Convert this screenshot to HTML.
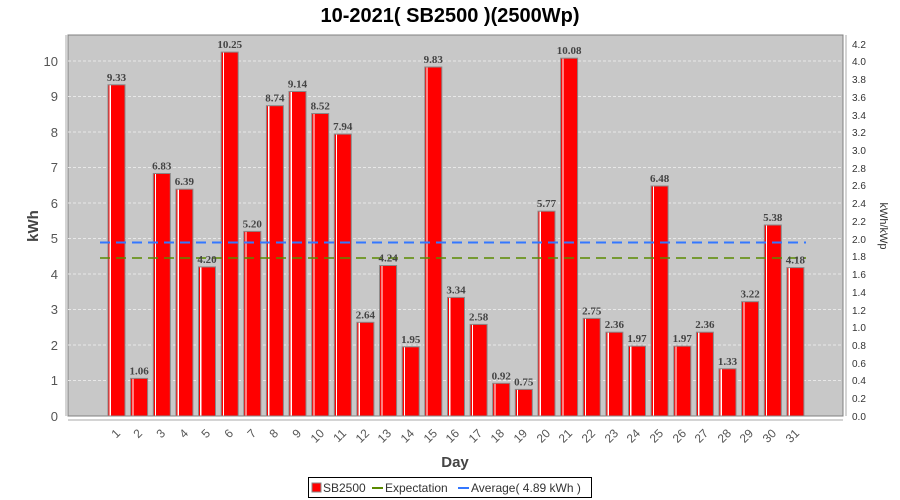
<!DOCTYPE html><html><head><style>body{margin:0;background:#fff}svg{display:block}</style></head><body>
<svg width="900" height="500" xmlns="http://www.w3.org/2000/svg" font-family="Liberation Sans, sans-serif">
<defs><linearGradient id="bg" x1="0" x2="1" y1="0" y2="0">
<stop offset="0" stop-color="#f00"/><stop offset="0.1" stop-color="#f00"/><stop offset="0.1" stop-color="#fff"/><stop offset="0.17" stop-color="#fff"/><stop offset="0.17" stop-color="#f00"/><stop offset="1" stop-color="#f00"/>
</linearGradient></defs>
<text x="450" y="22" text-anchor="middle" font-size="20" font-weight="bold" fill="#000">10-2021( SB2500 )(2500Wp)</text>
<rect x="68" y="35" width="775" height="381" fill="#c8c8c8" stroke="#808080"/>
<g stroke="#e8e8e8" stroke-dasharray="3,2" stroke-width="1">
<line x1="68" x2="843" y1="380.5" y2="380.5"/><line x1="68" x2="843" y1="345" y2="345"/><line x1="68" x2="843" y1="309.5" y2="309.5"/><line x1="68" x2="843" y1="274" y2="274"/><line x1="68" x2="843" y1="238.5" y2="238.5"/><line x1="68" x2="843" y1="203" y2="203"/><line x1="68" x2="843" y1="167.5" y2="167.5"/><line x1="68" x2="843" y1="132" y2="132"/><line x1="68" x2="843" y1="96.5" y2="96.5"/><line x1="68" x2="843" y1="61" y2="61"/>
</g>
<g fill="#555" font-size="13" text-anchor="end">
<text x="58" y="421">0</text><text x="58" y="385">1</text><text x="58" y="350">2</text><text x="58" y="314">3</text><text x="58" y="279">4</text><text x="58" y="243">5</text><text x="58" y="208">6</text><text x="58" y="172">7</text><text x="58" y="137">8</text><text x="58" y="101">9</text><text x="58" y="66">10</text>
</g>
<text x="38" y="226" font-size="15" font-weight="bold" fill="#444" text-anchor="middle" transform="rotate(-90 38 226)">kWh</text>
<g fill="#333" font-size="10">
<text x="852" y="420">0.0</text><text x="852" y="402">0.2</text><text x="852" y="384">0.4</text><text x="852" y="367">0.6</text><text x="852" y="349">0.8</text><text x="852" y="331">1.0</text><text x="852" y="314">1.2</text><text x="852" y="296">1.4</text><text x="852" y="278">1.6</text><text x="852" y="260">1.8</text><text x="852" y="243">2.0</text><text x="852" y="225">2.2</text><text x="852" y="207">2.4</text><text x="852" y="189">2.6</text><text x="852" y="172">2.8</text><text x="852" y="154">3.0</text><text x="852" y="136">3.2</text><text x="852" y="119">3.4</text><text x="852" y="101">3.6</text><text x="852" y="83">3.8</text><text x="852" y="65">4.0</text><text x="852" y="48">4.2</text>
</g>
<line x1="846" x2="846" y1="35" y2="416" stroke="#aaa"/>
<text x="880" y="226" font-size="11" fill="#333" text-anchor="middle" transform="rotate(90 880 226)">kWh/kWp</text>
<line x1="66" x2="66" y1="35" y2="416" stroke="#aaa"/>
<line x1="68" x2="843" y1="420" y2="420" stroke="#aaa"/>
<g fill="url(#bg)" stroke="#888" stroke-width="1">
<rect x="108" y="84.8" width="17" height="331.2"/><rect x="130.6" y="378.4" width="17" height="37.6"/><rect x="153.3" y="173.5" width="17" height="242.5"/><rect x="175.9" y="189.2" width="17" height="226.8"/><rect x="198.5" y="266.9" width="17" height="149.1"/><rect x="221.2" y="52.1" width="17" height="363.9"/><rect x="243.8" y="231.4" width="17" height="184.6"/><rect x="266.4" y="105.7" width="17" height="310.3"/><rect x="289" y="91.5" width="17" height="324.5"/><rect x="311.7" y="113.5" width="17" height="302.5"/><rect x="334.3" y="134.1" width="17" height="281.9"/><rect x="356.9" y="322.3" width="17" height="93.7"/><rect x="379.6" y="265.5" width="17" height="150.5"/><rect x="402.2" y="346.8" width="17" height="69.2"/><rect x="424.8" y="67" width="17" height="349"/><rect x="447.5" y="297.4" width="17" height="118.6"/><rect x="470.1" y="324.4" width="17" height="91.6"/><rect x="492.7" y="383.3" width="17" height="32.7"/><rect x="515.3" y="389.4" width="17" height="26.6"/><rect x="538" y="211.2" width="17" height="204.8"/><rect x="560.6" y="58.2" width="17" height="357.8"/><rect x="583.2" y="318.4" width="17" height="97.6"/><rect x="605.9" y="332.2" width="17" height="83.8"/><rect x="628.5" y="346.1" width="17" height="69.9"/><rect x="651.1" y="186" width="17" height="230"/><rect x="673.8" y="346.1" width="17" height="69.9"/><rect x="696.4" y="332.2" width="17" height="83.8"/><rect x="719" y="368.8" width="17" height="47.2"/><rect x="741.6" y="301.7" width="17" height="114.3"/><rect x="764.3" y="225" width="17" height="191"/><rect x="786.9" y="267.6" width="17" height="148.4"/>
</g>
<line x1="100" x2="806" y1="258" y2="258" stroke="#5a8a00" stroke-width="1.5" stroke-dasharray="10,6"/>
<line x1="100" x2="806" y1="242.5" y2="242.5" stroke="#3377ff" stroke-width="2" stroke-dasharray="10,6"/>
<g fill="#444" font-size="11" font-weight="bold" font-family="Liberation Serif, serif" text-anchor="middle">
<text x="116.5" y="80.8">9.33</text><text x="139.1" y="374.4">1.06</text><text x="161.8" y="169.5">6.83</text><text x="184.4" y="185.2">6.39</text><text x="207" y="262.9">4.20</text><text x="229.7" y="48.1">10.25</text><text x="252.3" y="227.4">5.20</text><text x="274.9" y="101.7">8.74</text><text x="297.5" y="87.5">9.14</text><text x="320.2" y="109.5">8.52</text><text x="342.8" y="130.1">7.94</text><text x="365.4" y="318.3">2.64</text><text x="388.1" y="261.5">4.24</text><text x="410.7" y="342.8">1.95</text><text x="433.3" y="63">9.83</text><text x="456" y="293.4">3.34</text><text x="478.6" y="320.4">2.58</text><text x="501.2" y="379.3">0.92</text><text x="523.8" y="385.4">0.75</text><text x="546.5" y="207.2">5.77</text><text x="569.1" y="54.2">10.08</text><text x="591.7" y="314.4">2.75</text><text x="614.4" y="328.2">2.36</text><text x="637" y="342.1">1.97</text><text x="659.6" y="182">6.48</text><text x="682.3" y="342.1">1.97</text><text x="704.9" y="328.2">2.36</text><text x="727.5" y="364.8">1.33</text><text x="750.1" y="297.7">3.22</text><text x="772.8" y="221">5.38</text><text x="795.4" y="263.6">4.18</text>
</g>
<g fill="#555" font-size="12" text-anchor="end">
<text transform="translate(121,434) rotate(-45)">1</text><text transform="translate(143,434) rotate(-45)">2</text><text transform="translate(166,434) rotate(-45)">3</text><text transform="translate(189,434) rotate(-45)">4</text><text transform="translate(211,434) rotate(-45)">5</text><text transform="translate(234,434) rotate(-45)">6</text><text transform="translate(257,434) rotate(-45)">7</text><text transform="translate(279,434) rotate(-45)">8</text><text transform="translate(302,434) rotate(-45)">9</text><text transform="translate(325,434) rotate(-45)">10</text><text transform="translate(347,434) rotate(-45)">11</text><text transform="translate(370,434) rotate(-45)">12</text><text transform="translate(392,434) rotate(-45)">13</text><text transform="translate(415,434) rotate(-45)">14</text><text transform="translate(438,434) rotate(-45)">15</text><text transform="translate(460,434) rotate(-45)">16</text><text transform="translate(483,434) rotate(-45)">17</text><text transform="translate(505,434) rotate(-45)">18</text><text transform="translate(528,434) rotate(-45)">19</text><text transform="translate(551,434) rotate(-45)">20</text><text transform="translate(573,434) rotate(-45)">21</text><text transform="translate(596,434) rotate(-45)">22</text><text transform="translate(619,434) rotate(-45)">23</text><text transform="translate(641,434) rotate(-45)">24</text><text transform="translate(664,434) rotate(-45)">25</text><text transform="translate(687,434) rotate(-45)">26</text><text transform="translate(709,434) rotate(-45)">27</text><text transform="translate(732,434) rotate(-45)">28</text><text transform="translate(754,434) rotate(-45)">29</text><text transform="translate(777,434) rotate(-45)">30</text><text transform="translate(800,434) rotate(-45)">31</text>
</g>
<text x="455" y="467" font-size="15" font-weight="bold" fill="#444" text-anchor="middle">Day</text>
<rect x="308.5" y="477.5" width="283" height="20" fill="#fff" stroke="#000"/>
<rect x="312" y="483" width="9" height="9" fill="#f00" stroke="#888"/>
<text x="323" y="492" font-size="12" fill="#333">SB2500</text>
<line x1="372" x2="383" y1="488" y2="488" stroke="#5a8a00" stroke-width="2"/>
<text x="385" y="492" font-size="12" fill="#333">Expectation</text>
<line x1="458" x2="469" y1="488" y2="488" stroke="#3377ff" stroke-width="2"/>
<text x="471" y="492" font-size="12" fill="#333">Average( 4.89 kWh )</text>
</svg></body></html>
